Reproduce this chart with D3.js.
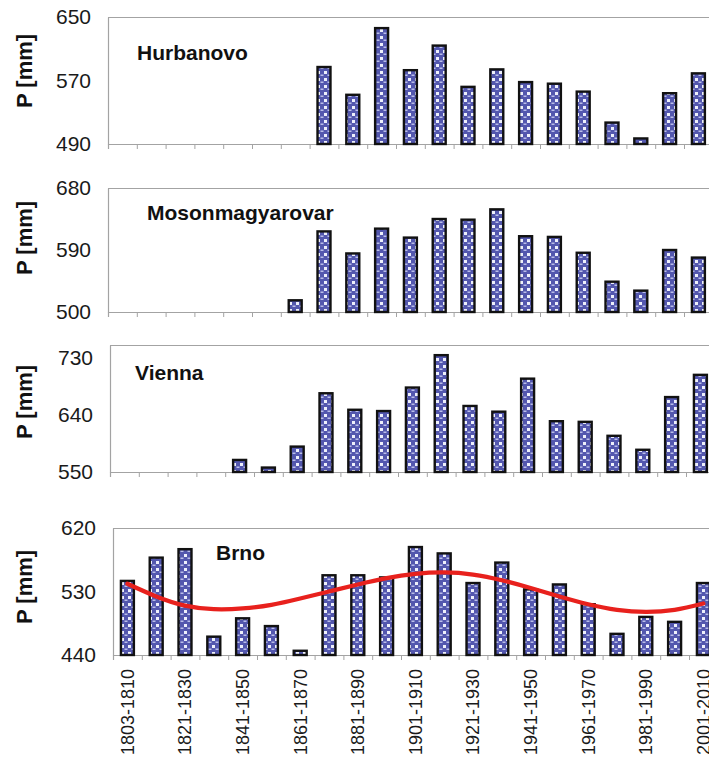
<!DOCTYPE html>
<html>
<head>
<meta charset="utf-8">
<script src="https://cdn.jsdelivr.net/npm/d3@7"></script>
<style>
  html, body { margin: 0; padding: 0; background: #ffffff; }
  svg { display: block; }
  text { font-family: "Liberation Sans", Arial, sans-serif; }
</style>
</head>
<body>
<svg id="chart" width="709" height="768"></svg>
<script>
// ---- data ----
const categories = ["1803-1810","1811-1820","1821-1830","1831-1840","1841-1850","1851-1860",
  "1861-1870","1871-1880","1881-1890","1891-1900","1901-1910","1911-1920","1921-1930",
  "1931-1940","1941-1950","1951-1960","1961-1970","1971-1980","1981-1990","1991-2000","2001-2010"];
const labeledCategories = ["1803-1810","1821-1830","1841-1850","1861-1870","1881-1890",
  "1901-1910","1921-1930","1941-1950","1961-1970","1981-1990","2001-2010"];

const stationNames = ["Hurbanovo", "Mosonmagyarovar", "Vienna", "Brno"];
const hurbanovo = [null,null,null,null,null,null,null,587,552,636,583,614,562,584,568,566,556,517,497,554,579];
const mosonmagyarovar = [null,null,null,null,null,null,517,617,585,621,608,635,634,649,610,609,586,544,531,590,579];
const vienna = [null,null,null,null,569,557,590,674,648,646,683,734,654,645,697,630,629,607,585,668,703];
const brno = [545,578,590,466,492,481,446,553,553,550,593,584,542,571,533,540,512,470,494,487,542];
const brnoTrend = [541,523,510,505,506,511,520,530,540,549,555,557,554,546,535,523,512,504,501,504,513];

const yDomains = [[490,650],[500,680],[550,750],[440,620]];
const yTicks = [[490,570,650],[500,590,680],[550,640,730],[440,530,620]];

// ---- layout ----
const step = 28.8;
const panels = [
  {top: 17,  bottom: 144, left: 108, titleX: 137, titleY: 60,  yTitleY: 71},
  {top: 188, bottom: 312, left: 108, titleX: 147, titleY: 220, yTitleY: 238},
  {top: 345, bottom: 472, left: 110, titleX: 135, titleY: 380, yTitleY: 402},
  {top: 528, bottom: 655, left: 113, titleX: 216, titleY: 560, yTitleY: 587}
];
const series = [hurbanovo, mosonmagyarovar, vienna, brno];

const svg = d3.select("#chart");
const defs = svg.append("defs");
const pat = defs.append("pattern").attr("id","dots").attr("patternUnits","userSpaceOnUse")
  .attr("width",7).attr("height",7);
pat.append("rect").attr("width",7).attr("height",7).attr("fill","#5357ae");
pat.append("rect").attr("x",2).attr("y",1).attr("width",3).attr("height",3).attr("fill","#eef0fb");
pat.append("rect").attr("x",5.5).attr("y",4.5).attr("width",1.5).attr("height",1.5).attr("fill","#b9bde9");
pat.append("rect").attr("x",0).attr("y",4.5).attr("width",1.5).attr("height",1.5).attr("fill","#b9bde9");

const gray = "#a3a3a3";

panels.forEach((p, k) => {
  const W = categories.length * step;
  const x = d3.scaleBand().domain(categories).range([p.left, p.left + W])
    .paddingInner(0.55).paddingOuter(0.275);
  const xb = d3.scaleLinear().domain([0, categories.length]).range([p.left, p.left + W]);
  const y = d3.scaleLinear().domain(yDomains[k]).range([p.bottom, p.top]);
  const g = svg.append("g");

  // plot frame: top line
  g.append("line").attr("x1", p.left).attr("x2", p.left + W)
    .attr("y1", p.top + 0.5).attr("y2", p.top + 0.5)
    .attr("stroke", gray).attr("stroke-width", 1.2);

  // y axis (left border + labels)
  const ya = g.append("g").attr("transform", `translate(${p.left},0)`)
    .call(d3.axisLeft(y).tickValues(yTicks[k]).tickSize(0).tickPadding(17));
  ya.select(".domain").attr("stroke", gray).attr("stroke-width", 1.2);
  ya.selectAll("text").attr("font-size", 21).attr("fill", "#1a1a1a")
    .attr("font-family", '"Liberation Sans", Arial, sans-serif');

  // x axis boundary ticks
  const xa = g.append("g").attr("transform", `translate(0,${p.bottom})`)
    .call(d3.axisBottom(xb).tickValues(d3.range(categories.length + 1)).tickSize(5).tickFormat(""));
  xa.select(".domain").attr("stroke", gray).attr("stroke-width", 1.2);
  xa.selectAll(".tick line").attr("stroke", gray);

  // bars
  const data = categories.map((c, i) => ({c, v: series[k][i]})).filter(d => d.v !== null);
  g.append("g").selectAll("rect").data(data).join("rect")
    .attr("x", d => x(d.c)).attr("width", x.bandwidth())
    .attr("y", d => y(d.v)).attr("height", d => y(yDomains[k][0]) - y(d.v))
    .attr("fill", "url(#dots)").attr("stroke", "#111").attr("stroke-width", 2.4);

  // station title
  g.append("text").attr("x", p.titleX).attr("y", p.titleY)
    .attr("font-size", 21).attr("font-weight", "bold").attr("fill", "#111")
    .text(stationNames[k]);

  // y title
  g.append("text").attr("transform", `translate(32,${p.yTitleY}) rotate(-90)`)
    .attr("text-anchor", "middle").attr("font-size", 22).attr("font-weight", "bold")
    .attr("fill", "#111").text("P [mm]");

  // trend line (Brno)
  if (k === 3) {
    const line = d3.line().x((d, i) => x(categories[i]) + x.bandwidth() / 2).y(d => y(d))
      .curve(d3.curveNatural);
    g.append("path").datum(brnoTrend).attr("d", line)
      .attr("fill", "none").attr("stroke", "#e8211d").attr("stroke-width", 4.2)
      .attr("stroke-linecap", "round");

    // x labels
    g.append("g").selectAll("text").data(labeledCategories).join("text")
      .attr("transform", d => `translate(${x(d) + x.bandwidth() / 2},669) rotate(-90)`)
      .attr("text-anchor", "end").attr("dy", "0.35em")
      .attr("font-size", 18).attr("fill", "#1a1a1a").text(d => d);
  }
});
</script>
</body>
</html>
